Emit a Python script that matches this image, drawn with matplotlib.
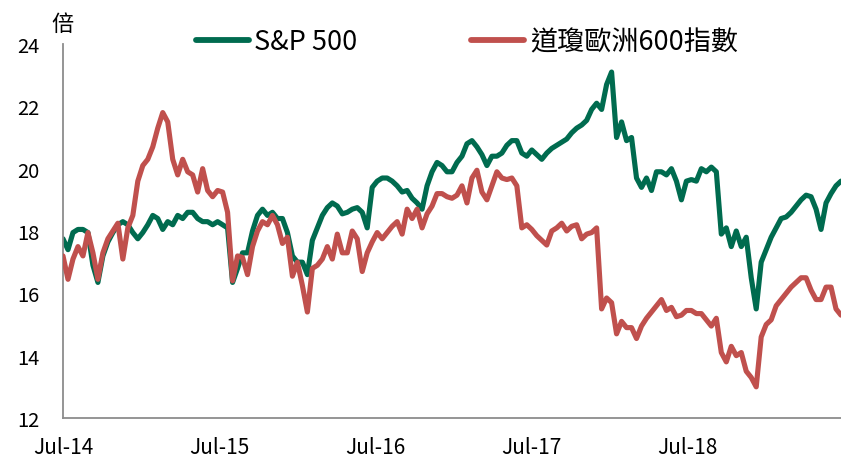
import matplotlib
matplotlib.use("Agg")
import matplotlib.pyplot as plt
import pandas as pd

plt.rcParams['font.family'] = ['Noto Sans CJK TC', 'DejaVu Sans']

start_date = '2014-07-01'
end_date = '2019-06-26'

sp500 = [
    17.75, 17.4, 17.95, 18.05, 18.05, 17.95, 16.9, 16.35, 17.2, 17.65,
    17.95, 18.2, 18.3, 18.2, 17.95, 17.75, 17.95, 18.2, 18.5, 18.4,
    18.05, 18.3, 18.2, 18.5, 18.4, 18.6, 18.6, 18.4, 18.3, 18.3,
    18.2, 18.3, 18.2, 18.1, 16.35, 16.8, 17.3, 17.3, 18.0, 18.5,
    18.7, 18.5, 18.6, 18.4, 18.4, 17.95, 17.2, 17.0, 17.0, 16.6,
    17.7, 18.1, 18.5, 18.75, 18.9, 18.8, 18.55, 18.6, 18.7, 18.75,
    18.6, 18.1, 19.4, 19.6, 19.7, 19.7, 19.6, 19.45, 19.25, 19.3,
    19.05, 18.9, 18.7, 19.45, 19.9, 20.2, 20.1, 19.9, 19.9, 20.2,
    20.4, 20.8, 20.9, 20.7, 20.45, 20.1, 20.4, 20.4, 20.5, 20.75,
    20.9, 20.9, 20.5, 20.4, 20.6, 20.45, 20.3, 20.5, 20.65, 20.75,
    20.85, 20.95, 21.15, 21.3, 21.4, 21.55, 21.9, 22.1, 21.9, 22.7,
    23.1, 21.0, 21.5, 20.9, 21.0, 19.7, 19.4, 19.7, 19.3, 19.9,
    19.9, 19.8, 20.0, 19.6, 19.0, 19.6, 19.65, 19.6, 20.0, 19.9,
    20.05, 19.9, 17.9, 18.1, 17.5, 18.0, 17.5, 17.8, 16.5, 15.5,
    17.0, 17.4, 17.8, 18.1, 18.4, 18.45, 18.6, 18.8, 19.0, 19.15,
    19.1, 18.7, 18.05, 18.9, 19.2, 19.45, 19.6,
]

stoxx600 = [
    17.2, 16.45, 17.1, 17.5, 17.2, 17.95, 17.3, 16.45, 17.3, 17.75,
    18.0, 18.25, 17.1, 18.1, 18.5, 19.6, 20.1, 20.3, 20.7, 21.3,
    21.8, 21.5, 20.3, 19.8, 20.3, 19.9, 19.8, 19.25, 20.0, 19.3,
    19.1, 19.3, 19.25, 18.6, 16.4, 17.2, 17.15, 16.6, 17.5, 18.0,
    18.3, 18.2, 18.5, 18.2, 17.6, 17.8, 16.55, 17.0, 16.25, 15.4,
    16.8, 16.9, 17.1, 17.5, 17.1, 17.9, 17.3, 17.3, 18.0, 17.75,
    16.7, 17.3, 17.65, 17.95, 17.75, 17.95, 18.15, 18.3, 17.9, 18.7,
    18.4, 18.7, 18.1, 18.55, 18.8, 19.2, 19.2, 19.1, 19.05, 19.15,
    19.45, 18.9, 19.7, 19.95, 19.25, 19.0, 19.45, 19.9, 19.7, 19.65,
    19.7, 19.45, 18.1, 18.2, 18.05, 17.85, 17.7, 17.55, 18.0, 18.1,
    18.25, 18.0, 18.15, 18.2, 17.75, 17.9, 17.95, 18.1, 15.5, 15.85,
    15.7, 14.7, 15.1, 14.9, 14.9, 14.55, 14.95, 15.2, 15.4, 15.6,
    15.8, 15.45, 15.55, 15.25, 15.3, 15.45, 15.45, 15.35, 15.35, 15.15,
    14.95, 15.2, 14.1, 13.8, 14.3, 14.0, 14.1, 13.5, 13.3, 13.0,
    14.6, 15.0, 15.15, 15.6, 15.8, 16.0, 16.2, 16.35, 16.5, 16.5,
    16.1, 15.8, 15.8, 16.2, 16.2, 15.5, 15.3,
]

series_names = ['S&P 500', '道瓊歐洲600指數']
series_colors = ['#006B4F', '#C0504D']
y_ticks = [12, 14, 16, 18, 20, 22, 24]
x_tick_dates = ['2014-07-01', '2015-07-01', '2016-07-01', '2017-07-01', '2018-07-01']
x_tick_labels = ['Jul-14', 'Jul-15', 'Jul-16', 'Jul-17', 'Jul-18']
y_unit = '倍'

dates_sp = pd.date_range(start_date, end_date, periods=len(sp500))
dates_st = pd.date_range(start_date, end_date, periods=len(stoxx600))

fig = plt.figure(figsize=(8.41, 4.60), dpi=100)
ax = fig.add_axes([63 / 841, 1 - 419 / 460, 1 - 63 / 841, (419 - 45) / 460])

l1, = ax.plot(dates_sp, sp500, color=series_colors[0], lw=3.7, solid_capstyle='round',
              solid_joinstyle='round', label=series_names[0], zorder=2)
l2, = ax.plot(dates_st, stoxx600, color=series_colors[1], lw=3.7, solid_capstyle='round',
              solid_joinstyle='round', label=series_names[1], zorder=3)

ax.set_ylim(12, 24)
ax.set_xlim(pd.Timestamp(start_date), pd.Timestamp(end_date))
ax.set_yticks(y_ticks)
ax.set_yticklabels([str(v) for v in y_ticks])
ax.set_xticks([pd.Timestamp(d) for d in x_tick_dates])
ax.set_xticklabels(x_tick_labels)
ax.tick_params(axis='both', length=0, colors='#000000')
ax.tick_params(axis='y', pad=17, labelsize=14.5)
ax.tick_params(axis='x', pad=13, labelsize=15)

for side in ['top', 'right']:
    ax.spines[side].set_visible(False)
for side in ['left', 'bottom']:
    ax.spines[side].set_color('#8c8c8c')
    ax.spines[side].set_linewidth(1.3)

fig.text(63 / 841, 1 - 24 / 460, y_unit, ha='center', va='center', fontsize=16)

leg = fig.legend(handles=[l1, l2], loc='center', bbox_to_anchor=(467 / 841, 1 - 43 / 460),
                 ncol=2, frameon=False, fontsize=19.5, handlelength=1.95, handletextpad=0.22,
                 columnspacing=4.2, borderpad=0, borderaxespad=0)
for h in leg.get_lines():
    h.set_linewidth(4.2)

fig.savefig('out.png', dpi=100)
